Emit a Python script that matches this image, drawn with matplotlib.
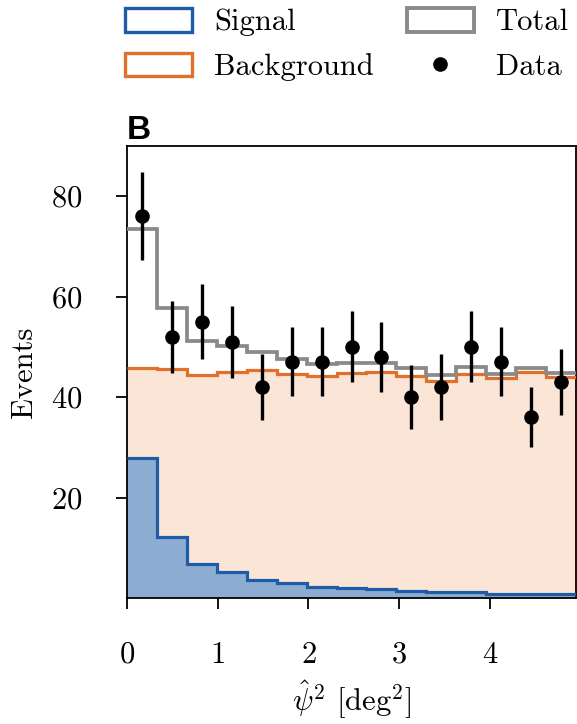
import numpy as np
import matplotlib
matplotlib.use('Agg')
import matplotlib.pyplot as plt
from matplotlib.patches import Patch
from matplotlib.lines import Line2D

plt.rcParams['font.family'] = 'serif'
plt.rcParams['font.serif'] = ['cmr10']
plt.rcParams['mathtext.fontset'] = 'cm'
plt.rcParams['axes.formatter.use_mathtext'] = True

# bin edges (deg^2)
edges = np.linspace(0, 4.95, 16)

# expected counts per bin
signal = [27.8, 12.2, 6.8, 5.2, 3.6, 3.0, 2.3, 2.0, 1.8, 1.5, 1.3, 1.2, 0.9, 0.85, 0.8]
background = [45.7, 45.6, 44.4, 45.0, 45.4, 44.6, 44.3, 44.8, 45.0, 44.3, 43.2, 44.7, 43.8, 45.0, 44.0]
total = [s + b for s, b in zip(signal, background)]

# observed counts
data = [76, 52, 55, 51, 42, 47, 47, 50, 48, 40, 42, 50, 47, 36, 43]

centers = 0.5 * (edges[1:] + edges[:-1])
err = np.sqrt(data)

c_sig = '#1f5ca8'
c_sig_fill = '#8dacd2'
c_bkg = '#e0702a'
c_bkg_fill = '#fbe5d6'
c_tot = '#8a8a8a'

fs = 22

fig = plt.figure(figsize=(5.77, 7.24), dpi=100)
ax = fig.add_axes([0.2201, 0.1736, 0.7782, 0.6252])

ax.stairs(background, edges, fill=True, color=c_bkg_fill, lw=0, zorder=1)
ax.stairs(signal, edges, fill=True, color=c_sig_fill, lw=0, zorder=2)
ax.stairs(background, edges, baseline=None, color=c_bkg, lw=2.3, zorder=3)
ax.stairs(signal, edges, baseline=None, color=c_sig, lw=2.3, zorder=4)
ax.stairs(total, edges, baseline=None, color=c_tot, lw=2.7, zorder=5)
ax.errorbar(centers, data, yerr=err, fmt='o', color='black', ms=9.5,
            elinewidth=2.4, capsize=0, zorder=6)

ax.set_xlim(0, 4.95)
ax.set_ylim(0, 90)
ax.set_xticks([0, 1, 2, 3, 4])
ax.set_yticks([20, 40, 60, 80])
ax.tick_params(labelsize=fs, length=8, width=1.3, direction='out')
ax.tick_params(axis='x', pad=23)
ax.tick_params(axis='y', pad=24)
for sp in ax.spines.values():
    sp.set_linewidth(1.3)

ax.set_ylabel('Events', fontsize=fs)
ax.yaxis.set_label_coords(-0.198, 0.5)
ax.set_xlabel(r'$\hat{\psi}^2$ [deg$^2$]', fontsize=fs)
ax.xaxis.set_label_coords(0.5, -0.178)

ax.set_title('B', loc='left', fontsize=24, fontweight='bold',
             family='Liberation Sans', pad=4)

handles = [
    Patch(facecolor='white', edgecolor=c_sig, lw=2.4, label='Signal'),
    Patch(facecolor='white', edgecolor=c_bkg, lw=2.4, label='Background'),
    Patch(facecolor='white', edgecolor=c_tot, lw=2.8, label='Total'),
    Line2D([], [], color='black', marker='o', ms=9.5, lw=0, label='Data'),
]
leg = fig.legend(handles=handles, ncol=2, loc='upper left',
                 bbox_to_anchor=(125 / 577, 1 - 8 / 724), frameon=False,
                 fontsize=fs, borderpad=0, borderaxespad=0,
                 handlelength=2.2, handleheight=0.82, labelspacing=0.53,
                 columnspacing=1.08, handletextpad=0.72)

fig.savefig('out.png', dpi=100)
